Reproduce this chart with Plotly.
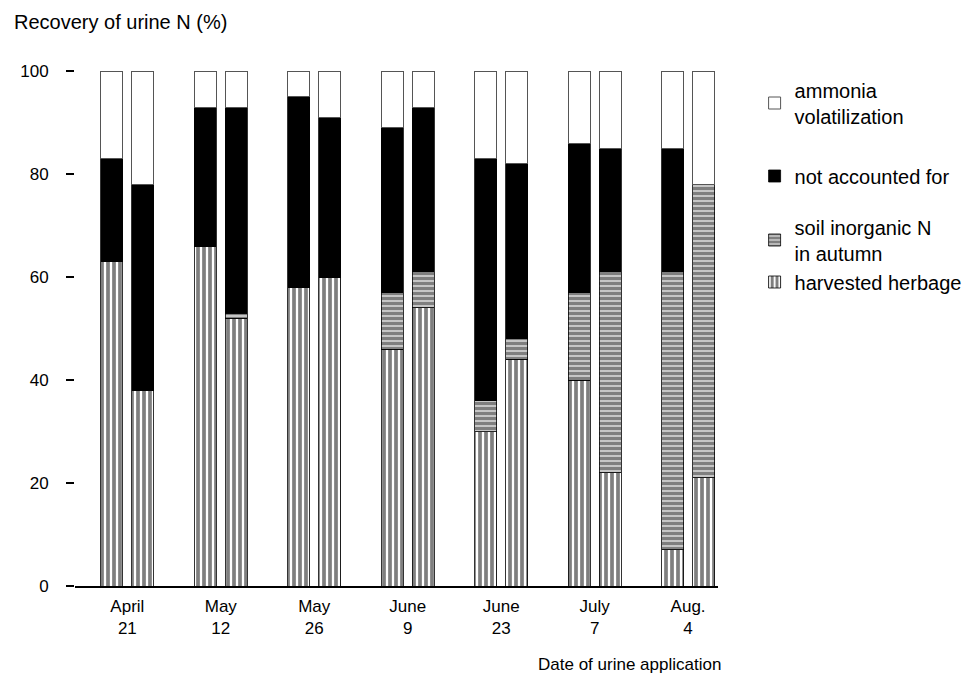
import plotly.graph_objects as go

# ---- data ----
dates = ["April<br>21", "May<br>12", "May<br>26", "June<br>9", "June<br>23", "July<br>7", "Aug.<br>4"]
# two bars per date (replicate a / b)
herbage = [63, 38, 66, 52, 58, 60, 46, 54, 30, 44, 40, 22, 7, 21]
soil_n = [0, 0, 0, 1, 0, 0, 11, 7, 6, 4, 17, 39, 54, 57]
not_accounted = [20, 40, 27, 40, 37, 31, 32, 32, 47, 34, 29, 24, 24, 0]
ammonia = [17, 22, 7, 7, 5, 9, 11, 7, 17, 18, 14, 15, 15, 22]
y_ticks = [0, 20, 40, 60, 80, 100]

# bar positions derived from group index
offset = 0.165
xpos = []
for i in range(len(dates)):
    xpos += [i - offset, i + offset]

FONT = "Liberation Sans, Arial, Helvetica, sans-serif"
bw = 0.235

fig = go.Figure()
fig.add_trace(go.Bar(
    x=xpos, y=herbage, width=bw, name="harvested herbage", legend="legend4", showlegend=True,
    marker=dict(color="white", line=dict(color="black", width=0.8),
                pattern=dict(shape="|", fgcolor="black", bgcolor="white", size=6, solidity=0.62)),
))
fig.add_trace(go.Bar(
    x=xpos, y=soil_n, width=bw, name="soil inorganic N<br>in autumn", legend="legend3", showlegend=True,
    marker=dict(color="white", line=dict(color="black", width=0.8),
                pattern=dict(shape="-", fgcolor="black", bgcolor="white", size=5, solidity=0.78)),
))
fig.add_trace(go.Bar(
    x=xpos, y=not_accounted, width=bw, name="not accounted for", legend="legend2", showlegend=True,
    marker=dict(color="black", line=dict(color="black", width=0.8)),
))
fig.add_trace(go.Bar(
    x=xpos, y=ammonia, width=bw, name="ammonia<br>volatilization", legend="legend", showlegend=True,
    marker=dict(color="white", line=dict(color="#555555", width=1)),
))

# page body adds an 8px offset on screen; margins compensate
L, R, T, B = 62, 259, 58, 102
W, H = 971, 680
pw = W - L - R
ph = H - T - B

def py(pix):
    # screen pixel -> paper y
    return (H - B - (pix - 8)) / ph

def px(pix):
    # screen pixel -> paper x
    return ((pix - 8) - L) / pw

legend_common = dict(x=px(757), xanchor="left", yanchor="middle", bgcolor="rgba(0,0,0,0)",
                     font=dict(family=FONT, size=20, color="black"), itemwidth=30)

fig.update_layout(
    width=W, height=H,
    margin=dict(l=L, r=R, t=T, b=B),
    barmode="stack",
    showlegend=True,
    plot_bgcolor="white", paper_bgcolor="white",
    font=dict(family=FONT, size=17, color="black"),
    legend=dict(y=py(103), **legend_common),
    legend2=dict(y=py(176), **legend_common),
    legend3=dict(y=py(240), **legend_common),
    legend4=dict(y=py(282), **legend_common),
    xaxis=dict(
        range=[-0.56, 6.32], tickmode="array", tickvals=list(range(len(dates))), ticktext=dates,
        showline=True, linecolor="black", linewidth=1.8, ticks="", showgrid=False, zeroline=False,
        ticklabelstandoff=4,
        tickfont=dict(family=FONT, size=17, color="black"),
    ),
    yaxis=dict(
        range=[0, 101], tickmode="array", tickvals=y_ticks, ticktext=[str(v) for v in y_ticks],
        showline=False, ticks="outside", ticklen=8, tickwidth=1.5, tickcolor="black",
        showgrid=False, zeroline=False, ticklabelstandoff=14,
        tickfont=dict(family=FONT, size=17, color="black"),
    ),
    annotations=[
        dict(text="Recovery of urine N (%)", xref="paper", yref="paper",
             x=px(6), y=py(22), xanchor="left", yanchor="middle",
             showarrow=False, font=dict(family=FONT, size=20, color="black")),
        dict(text="Date of urine application", xref="paper", yref="paper",
             x=px(631), y=py(664), xanchor="center", yanchor="middle",
             showarrow=False, font=dict(family=FONT, size=17, color="black")),
    ],
)

fig.write_html("out.html")
